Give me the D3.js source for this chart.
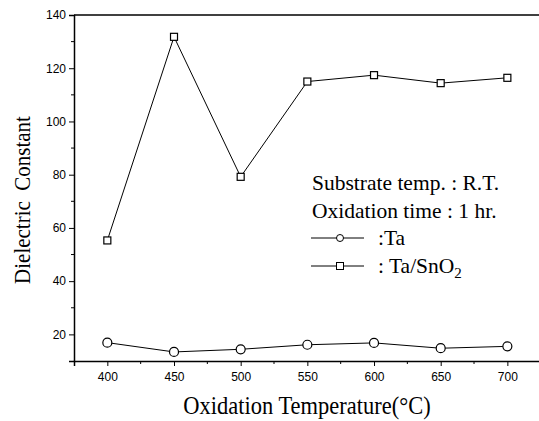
<!DOCTYPE html>
<html>
<head>
<meta charset="utf-8">
<script src="https://cdn.jsdelivr.net/npm/d3@7"></script>
<style>
  body { margin: 0; background: #fff; }
  .tick-label { font-family: Arial, "Liberation Sans", sans-serif; font-size: 12px; }
  .serif { font-family: "Times New Roman", "Liberation Serif", serif; white-space: pre; }
</style>
</head>
<body>
<div id="chart"></div>
<script>
// oxidation temperatures (°C)
const temps = [400, 450, 500, 550, 600, 650, 700];
// dielectric constant, Ta film
const taValues = [16.9, 13.4, 14.4, 16.1, 16.8, 14.8, 15.5];
// dielectric constant, Ta/SnO2 film
const taSnValues = [55.3, 131.8, 79.2, 115.0, 117.4, 114.4, 116.4];

const xTicks = [400, 450, 500, 550, 600, 650, 700];
const xMinor = [425, 475, 525, 575, 625, 675];
const yTicks = [20, 40, 60, 80, 100, 120, 140];
const yMinor = [30, 50, 70, 90, 110, 130];

const W = 539, H = 421;
const margin = { top: 15, right: 0, bottom: 60, left: 74 };

const svg = d3.select("#chart").append("svg")
    .attr("width", W)
    .attr("height", H);

const x = d3.scaleLinear()
    .domain([375, 725])
    .range([margin.left, margin.left + 466.7]);

const y = d3.scaleLinear()
    .domain([10, 140])
    .range([H - margin.bottom, margin.top]);

// top frame line (no right axis in the original)
svg.append("line")
    .attr("x1", margin.left).attr("x2", W)
    .attr("y1", y(140)).attr("y2", y(140))
    .attr("stroke", "#000").attr("stroke-width", 1.5);

const xAxis = svg.append("g")
    .attr("transform", "translate(0," + y(10) + ")")
    .call(d3.axisBottom(x).tickValues(xTicks).tickSize(5).tickPadding(6).tickFormat(d3.format("d")));
xAxis.select(".domain").attr("stroke-width", 1.5);
xAxis.selectAll("text").attr("class", "tick-label");
xAxis.append("g").selectAll("line")
    .data(xMinor)
    .enter().append("line")
    .attr("x1", d => x(d)).attr("x2", d => x(d))
    .attr("y1", 0).attr("y2", 3)
    .attr("stroke", "#000");

const yAxis = svg.append("g")
    .attr("transform", "translate(" + margin.left + ",0)")
    .call(d3.axisLeft(y).tickValues(yTicks).tickSize(5).tickPadding(3));
yAxis.select(".domain").attr("stroke-width", 1.5);
yAxis.selectAll("text").attr("class", "tick-label");
yAxis.append("g").selectAll("line")
    .data(yMinor)
    .enter().append("line")
    .attr("y1", d => y(d)).attr("y2", d => y(d))
    .attr("x1", 0).attr("x2", -3)
    .attr("stroke", "#000");

const line = d3.line()
    .x(d => x(d[0]))
    .y(d => y(d[1]));

const taData = d3.zip(temps, taValues);
const taSnData = d3.zip(temps, taSnValues);

svg.append("path")
    .attr("d", line(taSnData))
    .attr("fill", "none").attr("stroke", "#000").attr("stroke-width", 1);
svg.append("path")
    .attr("d", line(taData))
    .attr("fill", "none").attr("stroke", "#000").attr("stroke-width", 1);

svg.append("g").selectAll("rect")
    .data(taSnData)
    .enter().append("rect")
    .attr("x", d => x(d[0]) - 3.5)
    .attr("y", d => y(d[1]) - 3.5)
    .attr("width", 7).attr("height", 7)
    .attr("fill", "#fff").attr("stroke", "#000").attr("stroke-width", 1.2);

svg.append("g").selectAll("circle")
    .data(taData)
    .enter().append("circle")
    .attr("cx", d => x(d[0]))
    .attr("cy", d => y(d[1]))
    .attr("r", 4.5)
    .attr("fill", "#fff").attr("stroke", "#000").attr("stroke-width", 1.2);

// axis titles (scan is slightly stretched vertically)
svg.append("text")
    .attr("class", "serif")
    .attr("text-anchor", "middle")
    .attr("transform", "translate(307,414) scale(1,1.12)")
    .style("font-size", "22.5px")
    .text("Oxidation Temperature(°C)");

svg.append("text")
    .attr("class", "serif")
    .attr("text-anchor", "middle")
    .attr("transform", "translate(30,200) rotate(-90) scale(1,1.1)")
    .style("font-size", "21px")
    .text("Dielectric  Constant");

// annotation and legend
const legend = svg.append("g").attr("class", "serif").style("font-size", "21.5px");
legend.append("text").attr("x", 312).attr("y", 190).text("Substrate temp. : R.T.");
legend.append("text").attr("x", 312).attr("y", 218).text("Oxidation time : 1 hr.");

legend.append("line")
    .attr("x1", 311).attr("x2", 364).attr("y1", 238).attr("y2", 238)
    .attr("stroke", "#000");
legend.append("circle")
    .attr("cx", 340).attr("cy", 238).attr("r", 3.5)
    .attr("fill", "#fff").attr("stroke", "#000");
legend.append("text").attr("x", 378).attr("y", 245).text(":Ta");

legend.append("line")
    .attr("x1", 311).attr("x2", 364).attr("y1", 266).attr("y2", 266)
    .attr("stroke", "#000");
legend.append("rect")
    .attr("x", 336.5).attr("y", 262.5).attr("width", 7).attr("height", 7)
    .attr("fill", "#fff").attr("stroke", "#000");
const t2 = legend.append("text").attr("x", 378).attr("y", 273);
t2.append("tspan").text(": Ta/SnO");
t2.append("tspan").attr("dy", 5).style("font-size", "15px").text("2");
</script>
</body>
</html>
